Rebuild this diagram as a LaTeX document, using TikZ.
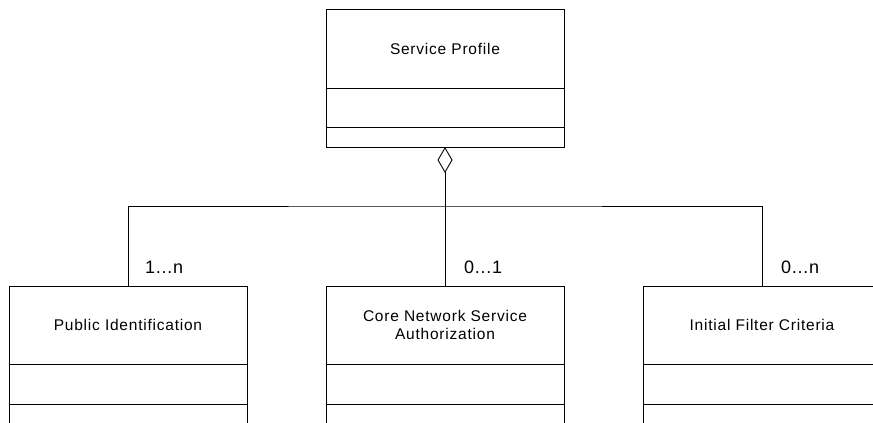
\documentclass[tikz,border=0pt]{standalone}
\usepackage{fontspec}
\setmainfont{Liberation Sans}
\usetikzlibrary{positioning,arrows.meta}
\newfontfamily\boxfont[LetterSpace=5]{Liberation Sans}
\tikzset{
  umlhead/.style={draw=black, line width=0.9pt, minimum width=238pt, inner sep=0pt, outer sep=0pt,
    align=center, font=\boxfont\fontsize{15.5}{19}\selectfont},
  umlcomp/.style={draw=black, line width=0.9pt, minimum width=238pt, inner sep=0pt, outer sep=0pt},
  mult/.style={anchor=west, inner sep=0pt, font=\fontsize{18}{21}\selectfont},
  link/.style={draw=black, line width=0.9pt}
}
\begin{document}
\begin{tikzpicture}[x=1pt,y=-1pt]
\useasboundingbox[clip] (0,0) rectangle (873,423);
% top class
\node[umlhead, minimum height=79pt] (sp) at (445,48.5) {Service Profile};
\node[umlcomp, minimum height=39pt, below=0pt of sp] (sp2) {};
\node[umlcomp, minimum height=20pt, below=0pt of sp2] (sp3) {};
% bottom classes
\node[umlhead, minimum height=78pt] (pi) at (128,325) {Public Identification};
\node[umlcomp, minimum height=40pt, below=0pt of pi] (pi2) {};
\node[umlcomp, minimum height=40pt, below=0pt of pi2] (pi3) {};
\node[umlhead, minimum height=78pt] (cn) at (445,325) {Core Network Service\\[-1pt]Authorization};
\node[umlcomp, minimum height=40pt, below=0pt of cn] (cn2) {};
\node[umlcomp, minimum height=40pt, below=0pt of cn2] (cn3) {};
\node[umlhead, minimum height=78pt] (ifc) at (762,325) {Initial Filter Criteria};
\node[umlcomp, minimum height=40pt, below=0pt of ifc] (ifc2) {};
\node[umlcomp, minimum height=40pt, below=0pt of ifc2] (ifc3) {};
% connectors
\coordinate (bus) at (445,206);
\draw[link, {Diamond[open, length=26pt, width=15pt, line width=0.9pt]}-] (sp3.south) -- (cn.north);
\draw[link] (pi.north) |- (bus) -| (ifc.north);
% multiplicities
\node[mult] (m1) at ([shift={(17,-19)}]pi.north) {1…n};
\node[mult] (m2) at ([shift={(19,-19)}]cn.north) {0…1};
\node[mult] (m3) at ([shift={(19,-19)}]ifc.north) {0…n};
\end{tikzpicture}
\end{document}
